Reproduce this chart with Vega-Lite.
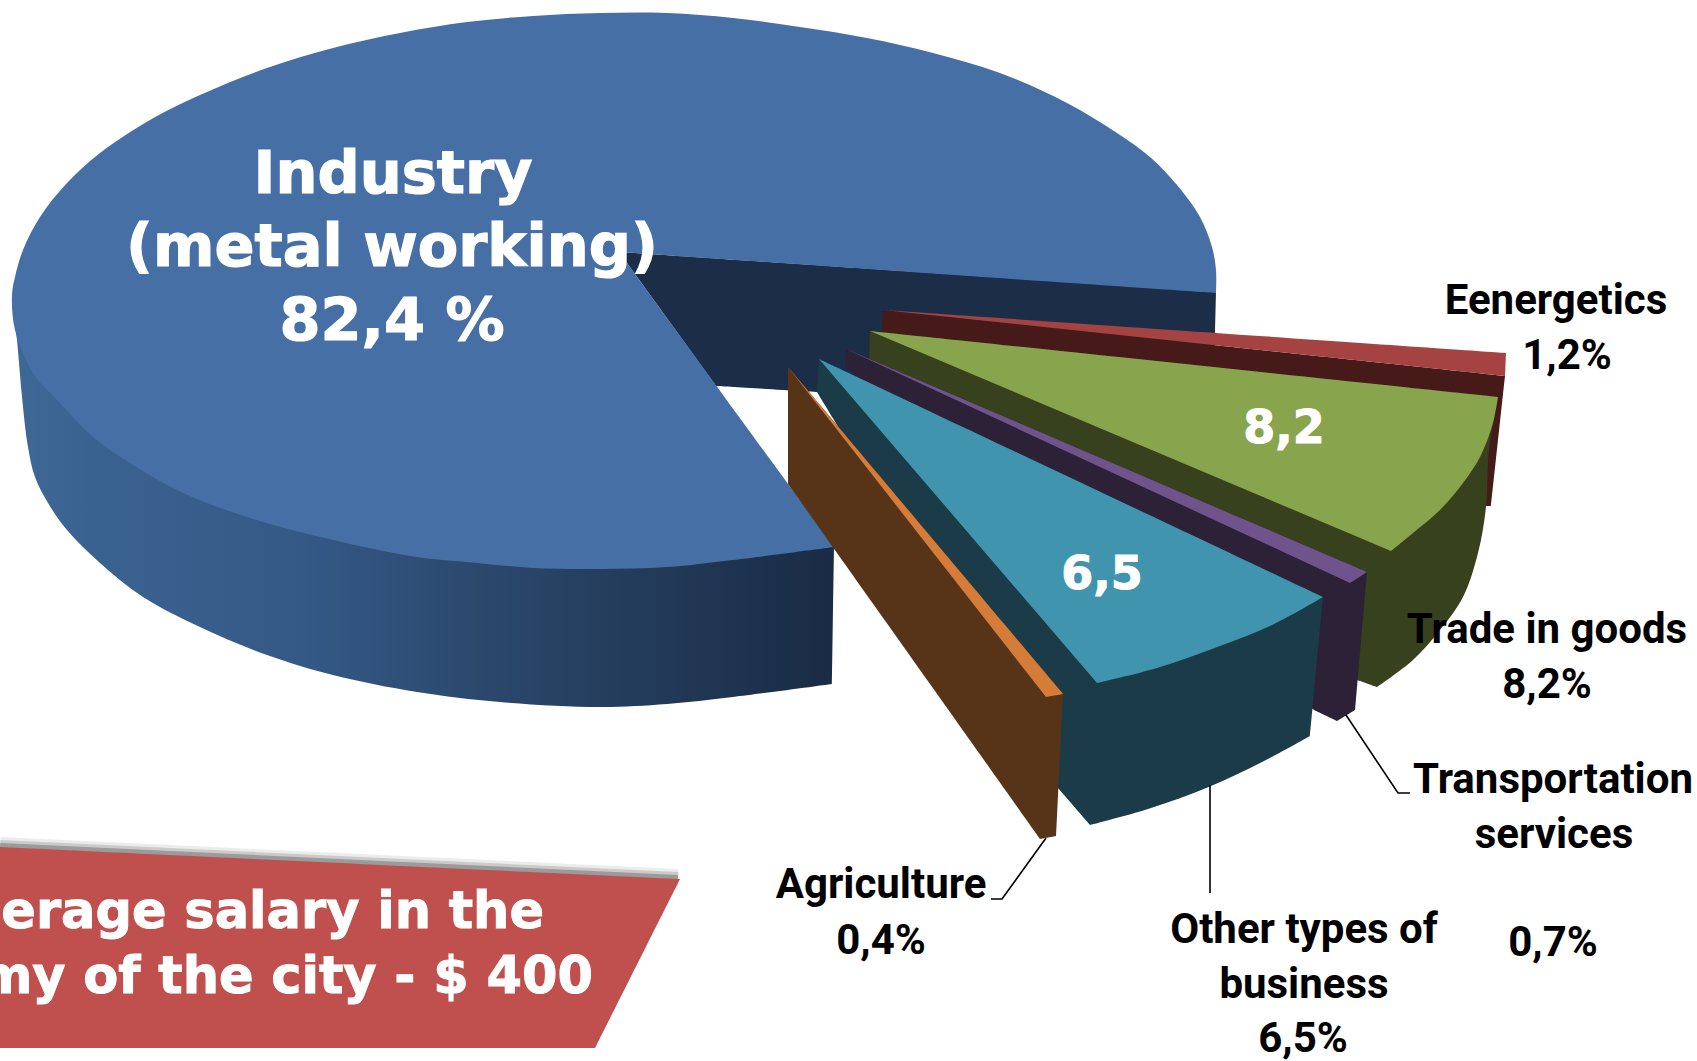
{"$schema":"https://vega.github.io/schema/vega-lite/v6.json","width":1697,"height":1061,"padding":0,"autosize":{"type":"none"},"background":"white","view":{"stroke":null},
"datasets":{
"wall":[{"part":"Industry side","seq":1,"x":12,"y":295},{"part":"Industry side","seq":2,"x":12,"y":295},{"part":"Industry side","seq":3,"x":17,"y":340},{"part":"Industry side","seq":4,"x":22,"y":397},{"part":"Industry side","seq":5,"x":28,"y":447},{"part":"Industry side","seq":6,"x":35,"y":477},{"part":"Industry side","seq":7,"x":48,"y":503},{"part":"Industry side","seq":8,"x":67,"y":530},{"part":"Industry side","seq":9,"x":100,"y":563},{"part":"Industry side","seq":10,"x":143,"y":597},{"part":"Industry side","seq":11,"x":200,"y":627},{"part":"Industry side","seq":12,"x":267,"y":655},{"part":"Industry side","seq":13,"x":333,"y":675},{"part":"Industry side","seq":14,"x":417,"y":692},{"part":"Industry side","seq":15,"x":500,"y":702},{"part":"Industry side","seq":16,"x":600,"y":707},{"part":"Industry side","seq":17,"x":667,"y":704},{"part":"Industry side","seq":18,"x":733,"y":697},{"part":"Industry side","seq":19,"x":832,"y":684},{"part":"Industry side","seq":20,"x":832,"y":684},{"part":"Industry side","seq":21,"x":834,"y":547},{"part":"Industry side","seq":22,"x":834,"y":547}],
"shadow":[{"seq":1,"x":0,"y":847},{"seq":2,"x":678,"y":879}],
"shapes":[
{"part":"Industry cut","seq":1,"x":619,"y":252},{"part":"Industry cut","seq":2,"x":619,"y":252},{"part":"Industry cut","seq":3,"x":1216,"y":292},{"part":"Industry cut","seq":4,"x":1216,"y":292},{"part":"Industry cut","seq":5,"x":1213,"y":420},{"part":"Industry cut","seq":6,"x":1213,"y":420},{"part":"Industry cut","seq":7,"x":819,"y":392},{"part":"Industry cut","seq":8,"x":819,"y":392},{"part":"Industry cut","seq":9,"x":716,"y":386},{"part":"Industry cut","seq":10,"x":716,"y":386},
{"part":"Industry","seq":1,"x":619,"y":252},{"part":"Industry","seq":2,"x":619,"y":252},{"part":"Industry","seq":3,"x":1216,"y":293},{"part":"Industry","seq":4,"x":1216,"y":293},{"part":"Industry","seq":5,"x":1216,"y":270},{"part":"Industry","seq":6,"x":1212,"y":247},{"part":"Industry","seq":7,"x":1200,"y":217},{"part":"Industry","seq":8,"x":1177,"y":185},{"part":"Industry","seq":9,"x":1150,"y":157},{"part":"Industry","seq":10,"x":1117,"y":133},{"part":"Industry","seq":11,"x":1067,"y":103},{"part":"Industry","seq":12,"x":1000,"y":73},{"part":"Industry","seq":13,"x":933,"y":53},{"part":"Industry","seq":14,"x":867,"y":38},{"part":"Industry","seq":15,"x":800,"y":27},{"part":"Industry","seq":16,"x":733,"y":18},{"part":"Industry","seq":17,"x":667,"y":13},{"part":"Industry","seq":18,"x":600,"y":13},{"part":"Industry","seq":19,"x":533,"y":16},{"part":"Industry","seq":20,"x":467,"y":22},{"part":"Industry","seq":21,"x":400,"y":33},{"part":"Industry","seq":22,"x":333,"y":48},{"part":"Industry","seq":23,"x":267,"y":68},{"part":"Industry","seq":24,"x":200,"y":95},{"part":"Industry","seq":25,"x":150,"y":120},{"part":"Industry","seq":26,"x":100,"y":153},{"part":"Industry","seq":27,"x":67,"y":183},{"part":"Industry","seq":28,"x":40,"y":217},{"part":"Industry","seq":29,"x":23,"y":250},{"part":"Industry","seq":30,"x":15,"y":277},{"part":"Industry","seq":31,"x":12,"y":295},{"part":"Industry","seq":32,"x":15,"y":330},{"part":"Industry","seq":33,"x":33,"y":373},{"part":"Industry","seq":34,"x":60,"y":403},{"part":"Industry","seq":35,"x":93,"y":437},{"part":"Industry","seq":36,"x":133,"y":465},{"part":"Industry","seq":37,"x":183,"y":493},{"part":"Industry","seq":38,"x":250,"y":518},{"part":"Industry","seq":39,"x":333,"y":540},{"part":"Industry","seq":40,"x":417,"y":557},{"part":"Industry","seq":41,"x":467,"y":562},{"part":"Industry","seq":42,"x":533,"y":568},{"part":"Industry","seq":43,"x":600,"y":569},{"part":"Industry","seq":44,"x":667,"y":567},{"part":"Industry","seq":45,"x":733,"y":560},{"part":"Industry","seq":46,"x":834,"y":547},{"part":"Industry","seq":47,"x":834,"y":547},{"part":"Industry","seq":48,"x":619,"y":252},{"part":"Industry","seq":49,"x":619,"y":252},
{"part":"Energetics side","seq":1,"x":883,"y":310},{"part":"Energetics side","seq":2,"x":883,"y":310},{"part":"Energetics side","seq":3,"x":1505,"y":376},{"part":"Energetics side","seq":4,"x":1505,"y":376},{"part":"Energetics side","seq":5,"x":1491,"y":506},{"part":"Energetics side","seq":6,"x":1491,"y":506},{"part":"Energetics side","seq":7,"x":1486,"y":506},{"part":"Energetics side","seq":8,"x":1486,"y":506},{"part":"Energetics side","seq":9,"x":1400,"y":450},{"part":"Energetics side","seq":10,"x":1400,"y":450},{"part":"Energetics side","seq":11,"x":881,"y":345},{"part":"Energetics side","seq":12,"x":881,"y":345},
{"part":"Energetics","seq":1,"x":883,"y":310},{"part":"Energetics","seq":2,"x":883,"y":310},{"part":"Energetics","seq":3,"x":1506,"y":353},{"part":"Energetics","seq":4,"x":1506,"y":353},{"part":"Energetics","seq":5,"x":1505,"y":376},{"part":"Energetics","seq":6,"x":1505,"y":376},
{"part":"Trade side","seq":1,"x":870,"y":331},{"part":"Trade side","seq":2,"x":870,"y":331},{"part":"Trade side","seq":3,"x":869,"y":370},{"part":"Trade side","seq":4,"x":869,"y":370},{"part":"Trade side","seq":5,"x":1357,"y":680},{"part":"Trade side","seq":6,"x":1357,"y":680},{"part":"Trade side","seq":7,"x":1377,"y":687},{"part":"Trade side","seq":8,"x":1377,"y":687},{"part":"Trade side","seq":9,"x":1413,"y":660},{"part":"Trade side","seq":10,"x":1440,"y":630},{"part":"Trade side","seq":11,"x":1463,"y":597},{"part":"Trade side","seq":12,"x":1478,"y":553},{"part":"Trade side","seq":13,"x":1486,"y":507},{"part":"Trade side","seq":14,"x":1489,"y":450},{"part":"Trade side","seq":15,"x":1498,"y":397},{"part":"Trade side","seq":16,"x":1498,"y":397},
{"part":"Trade","seq":1,"x":870,"y":331},{"part":"Trade","seq":2,"x":870,"y":331},{"part":"Trade","seq":3,"x":1498,"y":397},{"part":"Trade","seq":4,"x":1498,"y":397},{"part":"Trade","seq":5,"x":1493,"y":423},{"part":"Trade","seq":6,"x":1480,"y":457},{"part":"Trade","seq":7,"x":1463,"y":483},{"part":"Trade","seq":8,"x":1440,"y":510},{"part":"Trade","seq":9,"x":1413,"y":533},{"part":"Trade","seq":10,"x":1391,"y":551},{"part":"Trade","seq":11,"x":1391,"y":551},
{"part":"Transportation side","seq":1,"x":846,"y":349},{"part":"Transportation side","seq":2,"x":846,"y":349},{"part":"Transportation side","seq":3,"x":1367,"y":572},{"part":"Transportation side","seq":4,"x":1367,"y":572},{"part":"Transportation side","seq":5,"x":1355,"y":710},{"part":"Transportation side","seq":6,"x":1355,"y":710},{"part":"Transportation side","seq":7,"x":1337,"y":721},{"part":"Transportation side","seq":8,"x":1337,"y":721},{"part":"Transportation side","seq":9,"x":1314,"y":710},{"part":"Transportation side","seq":10,"x":1314,"y":710},{"part":"Transportation side","seq":11,"x":845,"y":367},{"part":"Transportation side","seq":12,"x":845,"y":367},
{"part":"Transportation","seq":1,"x":846,"y":349},{"part":"Transportation","seq":2,"x":846,"y":349},{"part":"Transportation","seq":3,"x":1367,"y":572},{"part":"Transportation","seq":4,"x":1367,"y":572},{"part":"Transportation","seq":5,"x":1350,"y":583},{"part":"Transportation","seq":6,"x":1350,"y":583},
{"part":"Other side","seq":1,"x":819,"y":359},{"part":"Other side","seq":2,"x":819,"y":359},{"part":"Other side","seq":3,"x":1323,"y":597},{"part":"Other side","seq":4,"x":1323,"y":597},{"part":"Other side","seq":5,"x":1310,"y":736},{"part":"Other side","seq":6,"x":1310,"y":736},{"part":"Other side","seq":7,"x":1264,"y":761},{"part":"Other side","seq":8,"x":1211,"y":786},{"part":"Other side","seq":9,"x":1148,"y":809},{"part":"Other side","seq":10,"x":1090,"y":825},{"part":"Other side","seq":11,"x":1090,"y":825},{"part":"Other side","seq":12,"x":1058,"y":788},{"part":"Other side","seq":13,"x":1058,"y":788},{"part":"Other side","seq":14,"x":817,"y":392},{"part":"Other side","seq":15,"x":817,"y":392},
{"part":"Other","seq":1,"x":819,"y":359},{"part":"Other","seq":2,"x":819,"y":359},{"part":"Other","seq":3,"x":1323,"y":597},{"part":"Other","seq":4,"x":1323,"y":597},{"part":"Other","seq":5,"x":1274,"y":624},{"part":"Other","seq":6,"x":1220,"y":646},{"part":"Other","seq":7,"x":1157,"y":668},{"part":"Other","seq":8,"x":1097,"y":683},{"part":"Other","seq":9,"x":1097,"y":683},
{"part":"Agriculture side","seq":1,"x":788,"y":367},{"part":"Agriculture side","seq":2,"x":788,"y":367},{"part":"Agriculture side","seq":3,"x":1063,"y":694},{"part":"Agriculture side","seq":4,"x":1063,"y":694},{"part":"Agriculture side","seq":5,"x":1056,"y":836},{"part":"Agriculture side","seq":6,"x":1056,"y":836},{"part":"Agriculture side","seq":7,"x":1040,"y":839},{"part":"Agriculture side","seq":8,"x":1040,"y":839},{"part":"Agriculture side","seq":9,"x":788,"y":484},{"part":"Agriculture side","seq":10,"x":788,"y":484},
{"part":"Agriculture","seq":1,"x":788,"y":367},{"part":"Agriculture","seq":2,"x":788,"y":367},{"part":"Agriculture","seq":3,"x":1063,"y":694},{"part":"Agriculture","seq":4,"x":1063,"y":694},{"part":"Agriculture","seq":5,"x":1046,"y":697},{"part":"Agriculture","seq":6,"x":1046,"y":697},
{"part":"Banner","seq":1,"x":0,"y":847},{"part":"Banner","seq":2,"x":0,"y":847},{"part":"Banner","seq":3,"x":680,"y":879},{"part":"Banner","seq":4,"x":680,"y":879},{"part":"Banner","seq":5,"x":595,"y":1048},{"part":"Banner","seq":6,"x":595,"y":1048},{"part":"Banner","seq":7,"x":0,"y":1048},{"part":"Banner","seq":8,"x":0,"y":1048}],
"leaders":[{"label":"Transportation","seq":1,"x":1346,"y":715},{"label":"Transportation","seq":2,"x":1398,"y":793},{"label":"Transportation","seq":3,"x":1410,"y":793},{"label":"Other","seq":1,"x":1210,"y":785},{"label":"Other","seq":2,"x":1210,"y":893},{"label":"Agriculture","seq":1,"x":1046,"y":838},{"label":"Agriculture","seq":2,"x":1002,"y":899},{"label":"Agriculture","seq":3,"x":991,"y":899}],
"callouts":[{"text":"Eenergetics","x":1556,"y":314},{"text":"1,2%","x":1567,"y":369},{"text":"Trade in goods","x":1547,"y":643},{"text":"8,2%","x":1547,"y":698},{"text":"Transportation","x":1553,"y":793},{"text":"services","x":1554,"y":848},{"text":"0,7%","x":1553,"y":956},{"text":"Agriculture","x":881,"y":898},{"text":"0,4%","x":881,"y":954},{"text":"Other types of","x":1304,"y":943},{"text":"business","x":1304,"y":998},{"text":"6,5%","x":1303,"y":1052}],
"industry":[{"text":"Industry","x":393,"y":193},{"text":"(metal working)","x":392,"y":266},{"text":"82,4 %","x":392,"y":340}],
"values":[{"text":"8,2","x":1284,"y":443},{"text":"6,5","x":1102,"y":589}],
"banner":[{"text":"erage salary in the","x":544,"y":928},{"text":"my of the city - $ 400","x":593,"y":993}]},
"encoding":{"x":{"field":"x","type":"quantitative","axis":null,"scale":{"domain":[0,1697],"nice":false,"zero":false}},"y":{"field":"y","type":"quantitative","axis":null,"scale":{"domain":[1061,0],"nice":false,"zero":false}}},
"layer":[
{"data":{"name":"wall"},"mark":{"type":"line","filled":true,"interpolate":"catmull-rom","strokeWidth":0,"fill":{"gradient":"linear","x1":0,"y1":0,"x2":1,"y2":0,"stops":[{"offset":0,"color":"#3E6896"},{"offset":0.1,"color":"#3A6290"},{"offset":0.35,"color":"#345987"},{"offset":0.6,"color":"#2A4669"},{"offset":0.84,"color":"#203653"},{"offset":1,"color":"#1A2B44"}]}},"encoding":{"order":{"field":"seq","type":"quantitative"}}},
{"data":{"name":"shadow"},"mark":{"type":"line","stroke":"#444444","strokeWidth":20,"opacity":0.1,"strokeCap":"butt"},"encoding":{"order":{"field":"seq","type":"quantitative"}}},
{"data":{"name":"shadow"},"mark":{"type":"line","stroke":"#444444","strokeWidth":14,"opacity":0.2,"strokeCap":"butt"},"encoding":{"order":{"field":"seq","type":"quantitative"}}},
{"data":{"name":"shadow"},"mark":{"type":"line","stroke":"#444444","strokeWidth":8,"opacity":0.35,"strokeCap":"butt"},"encoding":{"order":{"field":"seq","type":"quantitative"}}},
{"data":{"name":"shapes"},"mark":{"type":"line","filled":true,"interpolate":"catmull-rom","strokeWidth":0},"encoding":{"order":{"field":"seq","type":"quantitative"},"color":{"field":"part","type":"nominal","legend":null,"sort":null,"scale":{"domain":["Industry cut","Industry","Energetics side","Energetics","Trade side","Trade","Transportation side","Transportation","Other side","Other","Agriculture side","Agriculture","Banner"],"range":["#1B2D47","#4670A5","#461A19","#A54342","#38411E","#88A44D","#2D2138","#6F548B","#1A3B47","#4094AE","#573318","#D47C38","#C0504D"]}}}},
{"data":{"name":"leaders"},"mark":{"type":"line","stroke":"black","strokeWidth":1.6},"encoding":{"detail":{"field":"label"},"order":{"field":"seq","type":"quantitative"}}},
{"data":{"name":"callouts"},"mark":{"type":"text","font":"Roboto","fontWeight":"bold","fontSize":42,"color":"black","align":"center","baseline":"alphabetic"},"encoding":{"text":{"field":"text"}}},
{"data":{"name":"industry"},"mark":{"type":"text","font":"DejaVu Sans","fontWeight":"bold","fontSize":59,"color":"white","stroke":"white","strokeWidth":1.2,"align":"center","baseline":"alphabetic"},"encoding":{"text":{"field":"text"}}},
{"data":{"name":"values"},"mark":{"type":"text","font":"DejaVu Sans","fontWeight":"bold","fontSize":46,"color":"white","stroke":"white","strokeWidth":1,"align":"center","baseline":"alphabetic"},"encoding":{"text":{"field":"text"}}},
{"data":{"name":"banner"},"mark":{"type":"text","font":"DejaVu Sans","fontWeight":"bold","fontSize":51,"color":"white","stroke":"white","strokeWidth":1,"align":"right","baseline":"alphabetic"},"encoding":{"text":{"field":"text"}}}
]}
